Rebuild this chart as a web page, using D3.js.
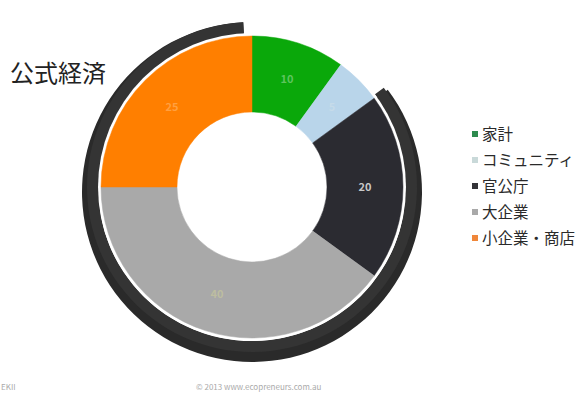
<!DOCTYPE html>
<html><head><meta charset="utf-8">
<script src="https://cdn.jsdelivr.net/npm/d3@7"></script>
<style>
body{margin:0;background:#fff;}
svg{display:block;}
text{font-family:"Noto Sans CJK JP","Noto Sans",sans-serif;}
</style></head>
<body>
<svg id="chart" width="588" height="394"></svg>
<script>
const categories = ["家計","コミュニティ","官公庁","大企業","小企業・商店"];
const values = [10, 5, 20, 40, 25];
const sliceColors = ["#0aa80a","#b9d5ea","#2b2b31","#a9a9a9","#ff7f00"];
const legendColors = ["#2e8b4e","#c9d9d9","#333338","#a9a9a9","#f0873a"];
const labelColors = ["#5ec45e","#c6dbe9","#c8c8c8","#bdbda0","#ffa040"];
const groupLabel = "公式経済";
const groupMembers = ["官公庁","大企業","小企業・商店"];

const svg = d3.select("#chart");
const cx = 252, cy = 187, rIn = 75, rOut = 151;
const deg = Math.PI/180;

const pie = d3.pie().value(d => d.v).sort(null);
const data = categories.map((c,i)=>({c, v:values[i], i}));
const arcs = pie(data);

// formal economy ring
const members = arcs.filter(a => groupMembers.includes(a.data.c));
const ringStart = d3.min(members, a=>a.startAngle) - 1*deg;
const ringEnd = d3.max(members, a=>a.endAngle) - 3*deg;
const ringArc = d3.arc();
const ring = svg.append("g");
ring.append("path")
  .attr("transform",`translate(${cx},${cy+5})`)
  .attr("d", ringArc({innerRadius:153,outerRadius:170,startAngle:ringStart,endAngle:ringEnd}))
  .attr("fill","#2a2a2a");
ring.append("path")
  .attr("transform",`translate(${cx},${cy})`)
  .attr("d", ringArc({innerRadius:154,outerRadius:165,startAngle:ringStart,endAngle:ringEnd}))
  .attr("fill","#343434");
ring.append("path")
  .attr("transform",`translate(${cx},${cy})`)
  .attr("d", d3.arc()({innerRadius:0,outerRadius:154,startAngle:0,endAngle:2*Math.PI}))
  .attr("fill","#fff");

const g = svg.append("g").attr("transform",`translate(${cx},${cy})`);
const arc = d3.arc().innerRadius(rIn).outerRadius(rOut);
g.selectAll("path.slice").data(arcs).join("path")
  .attr("class","slice")
  .attr("d", arc)
  .attr("fill", d => sliceColors[d.data.i])
  .attr("stroke", d => sliceColors[d.data.i])
  .attr("stroke-width", 0.5);

g.selectAll("text.lbl").data(arcs).join("text")
  .attr("class","lbl")
  .attr("transform", d => `translate(${arc.centroid(d)})`)
  .attr("text-anchor","middle")
  .attr("dy","0.35em")
  .attr("font-size", 11)
  .attr("font-weight","bold")
  .attr("fill", d => labelColors[d.data.i])
  .text(d => d.data.v);

// title
svg.append("text").attr("x",10).attr("y",82)
  .attr("font-size",24).attr("fill","#222").text(groupLabel);

// legend
const ly = d3.scalePoint().domain(categories).range([134, 238]);
const lg = svg.append("g");
categories.forEach((c,i)=>{
  lg.append("rect").attr("x",472).attr("y",ly(c)-3).attr("width",6).attr("height",6)
    .attr("fill",legendColors[i]);
  lg.append("text").attr("x",482).attr("y",ly(c)).attr("dy","0.36em")
    .attr("font-size",15.5).attr("fill","#2a2a2a").text(c);
});

// footer
svg.append("text").attr("x",1).attr("y",390).attr("font-size",8).attr("fill","#aaa").text("EKII");
svg.append("text").attr("x",196).attr("y",390).attr("font-size",8).attr("fill","#aaa").text("© 2013   www.ecopreneurs.com.au");
</script>
</body></html>
